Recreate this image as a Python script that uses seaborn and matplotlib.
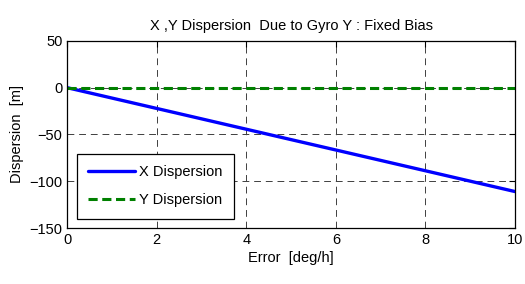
import matplotlib
matplotlib.use('Agg')
import matplotlib.pyplot as plt
import pandas as pd
import seaborn as sns

# data
error_deg_h = [0, 1, 2, 3, 4, 5, 6, 7, 8, 9, 10]
x_dispersion = [0, -11.1, -22.2, -33.3, -44.4, -55.5, -66.6, -77.7, -88.8, -99.9, -111.0]
y_dispersion = [0, 0, 0, 0, 0, 0, 0, 0, 0, 0, 0]

x_ticks = [0, 2, 4, 6, 8, 10]
y_ticks = [-150, -100, -50, 0, 50]

df = pd.DataFrame({'err': error_deg_h, 'X Dispersion': x_dispersion, 'Y Dispersion': y_dispersion})

sns.set_style('white')
plt.rcParams['font.family'] = ['Liberation Sans', 'DejaVu Sans']
plt.rcParams['font.size'] = 10.5
plt.rcParams['text.color'] = 'black'
plt.rcParams['axes.labelcolor'] = 'black'

fig = plt.figure(figsize=(5.25, 2.84), dpi=100)
ax = fig.add_axes([0.128, 0.197, 0.853, 0.659])

sns.lineplot(data=df, x='err', y='X Dispersion', ax=ax, color='#0000ff', linewidth=2.4, label='X Dispersion')
sns.lineplot(data=df, x='err', y='Y Dispersion', ax=ax, color='#008000', linewidth=2.2,
             linestyle=(0, (3, 1.5)), label='Y Dispersion')

ax.set_xlim(0, 10)
ax.set_ylim(-150, 50)
ax.set_xticks(x_ticks)
ax.set_yticks(y_ticks)
ax.grid(True, color='#404040', linestyle=(0, (7, 5)), linewidth=0.7)
ax.tick_params(direction='in', top=True, right=True, length=4, width=0.8, labelsize=10.5, colors='black')
for s in ax.spines.values():
    s.set_visible(True)
    s.set_color('black')
    s.set_linewidth(0.9)

ax.set_title('X ,Y Dispersion  Due to Gyro Y : Fixed Bias', fontsize=10.5, pad=8, color='black')
ax.set_xlabel('Error  [deg/h]', fontsize=10.5, labelpad=3)
ax.set_ylabel('Dispersion  [m]', fontsize=10.5, labelpad=4)

leg = ax.legend(loc='lower left', bbox_to_anchor=(0.005, 0.01), fancybox=False, framealpha=1,
                edgecolor='black', fontsize=10.5, handlelength=3.2, handletextpad=0.3,
                borderpad=0.8, labelspacing=0.95, borderaxespad=0.5)
leg.get_frame().set_linewidth(0.9)
for t in leg.get_texts():
    t.set_color('black')

fig.savefig('out.png', dpi=100, facecolor='white')
